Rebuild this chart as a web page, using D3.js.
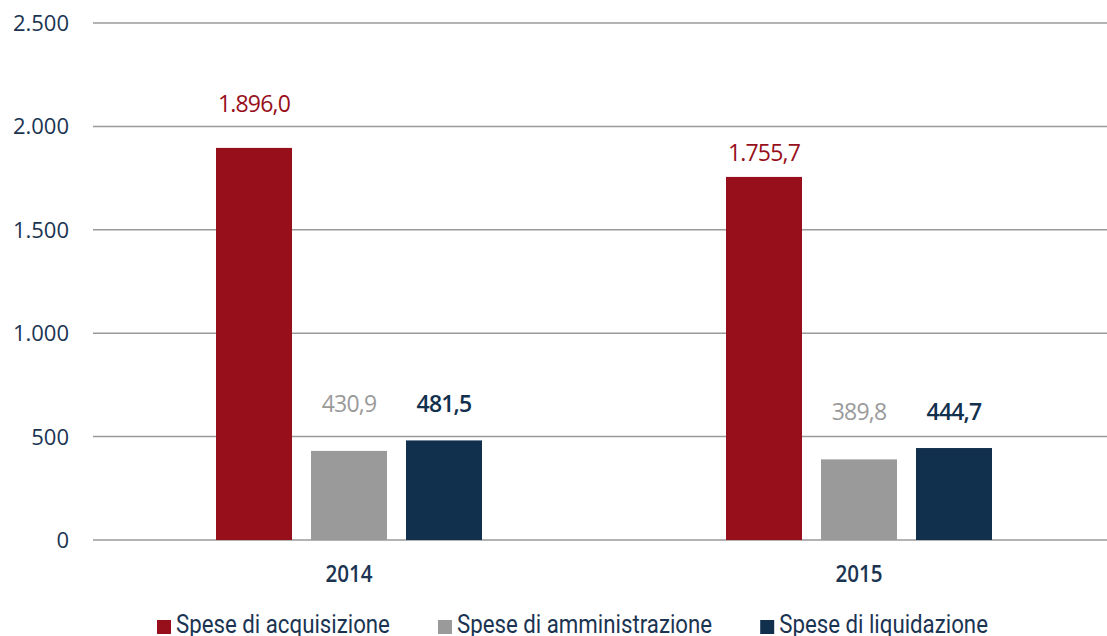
<!DOCTYPE html>
<html>
<head>
<meta charset="utf-8">
<script src="https://cdn.jsdelivr.net/npm/d3@7"></script>
<style>
  html, body { margin: 0; padding: 0; background: #fff; }
  svg { display: block; }
</style>
</head>
<body>
<svg id="chart" width="1107" height="636"></svg>
<script>
const years = ["2014", "2015"];
const series = ["Spese di acquisizione", "Spese di amministrazione", "Spese di liquidazione"];
const acquisizione = [1896.0, 1755.7];
const amministrazione = [430.9, 389.8];
const liquidazione = [481.5, 444.7];
const yTicks = [0, 500, 1000, 1500, 2000, 2500];

const COLORS = ["#970f1a", "#9a9a9a", "#11304e"];
const TEXT = "#1b3452";

const W = 1107, H = 636;
const svg = d3.select("#chart");

const values = [acquisizione, amministrazione, liquidazione];
const rows = years.map((y, i) => ({ year: y, vals: values.map(v => v[i]) }));

const x = d3.scaleBand().domain(years).range([94, 1114]);
const xs = d3.scaleBand().domain(d3.range(series.length)).range([-133, 133]).paddingInner(0.2);
const y = d3.scaleLinear().domain([0, 2500]).range([540, 23]);

// it-IT style numbers: dot for thousands, comma for decimals
const it = d3.formatLocale({ decimal: ",", thousands: ".", grouping: [3], currency: ["€", ""] });
const fmtTick = it.format(",.0f");
const fmtVal = it.format(",.1f");

// gridlines
svg.append("g").selectAll("line").data(yTicks).join("line")
  .attr("x1", 93).attr("x2", W)
  .attr("y1", d => y(d)).attr("y2", d => y(d))
  .attr("stroke", "#9a9a9a").attr("stroke-width", 1.5);

svg.append("g").selectAll("text").data(yTicks).join("text")
  .attr("x", 69).attr("y", d => y(d) + 8)
  .attr("text-anchor", "end")
  .attr("font-family", "'Open Sans', sans-serif")
  .attr("font-weight", 500)
  .attr("font-size", 22)
  .attr("fill", TEXT)
  .text(d => fmtTick(d));

// bars
const groups = svg.append("g").selectAll("g").data(rows).join("g")
  .attr("transform", d => `translate(${x(d.year) + x.bandwidth() / 2},0)`);

groups.selectAll("rect").data(d => d.vals).join("rect")
  .attr("x", (d, i) => xs(i))
  .attr("width", xs.bandwidth())
  .attr("y", d => y(d))
  .attr("height", d => y(0) - y(d))
  .attr("fill", (d, i) => COLORS[i]);

// value labels: the big bar on its own, the two small ones share a line
function labelY(d, i, vals) {
  if (i === 0) {
    let b = y(d) - 16;
    const hit = yTicks.find(t => y(t) > b - 17 && y(t) < b + 5);
    if (hit !== undefined) b = y(hit) - 14;
    return b;
  }
  return y(Math.max(vals[1], vals[2])) - 28;
}

groups.each(function(row) {
  d3.select(this).selectAll("text.val").data(row.vals).join("text")
    .attr("class", "val")
    .attr("x", (d, i) => xs(i) + xs.bandwidth() / 2)
    .attr("y", (d, i) => labelY(d, i, row.vals))
    .attr("text-anchor", "middle")
    .attr("font-family", "'Open Sans', sans-serif")
    .attr("font-weight", (d, i) => i === 2 ? 600 : 400)
    .attr("font-size", 23)
    .attr("letter-spacing", -0.8)
    .attr("fill", (d, i) => COLORS[i])
    .text(d => fmtVal(d));
});

// category labels
svg.append("g").selectAll("text").data(years).join("text")
  .attr("x", d => x(d) + x.bandwidth() / 2)
  .attr("y", 582)
  .attr("text-anchor", "middle")
  .attr("font-family", "'Open Sans', sans-serif")
  .attr("font-weight", 600)
  .attr("font-size", 24)
  .attr("fill", TEXT)
  .attr("transform-origin", d => `${x(d) + x.bandwidth() / 2} 582`)
  .attr("transform", "scale(0.86,1)")
  .text(d => d);

// legend (condensed text, laid out left to right)
const legend = svg.append("g");
let lx = 157;
series.forEach((s, i) => {
  legend.append("rect")
    .attr("x", lx).attr("y", 620)
    .attr("width", 14).attr("height", 14)
    .attr("fill", COLORS[i]);
  const t = legend.append("text")
    .attr("x", 0).attr("y", 0)
    .attr("font-family", "Roboto, sans-serif")
    .attr("font-size", 25)
    .attr("fill", TEXT)
    .text(s);
  const k = 0.89;
  const w = t.node().getComputedTextLength() * k;
  t.attr("transform", `translate(${lx + 19},633) scale(${k},1)`);
  lx += 14 + 5 + w + 48;
});
</script>
</body>
</html>
